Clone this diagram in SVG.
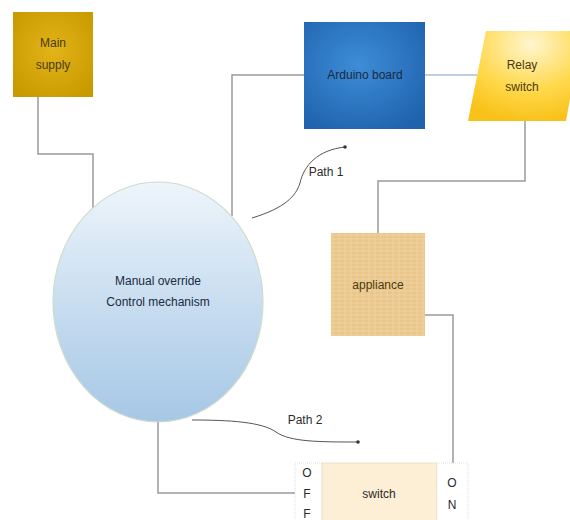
<svg xmlns="http://www.w3.org/2000/svg" width="570" height="520" viewBox="0 0 570 520">
  <defs>
    <radialGradient id="gMain" cx="50%" cy="45%" r="65%">
      <stop offset="0" stop-color="#E2B41A"/>
      <stop offset="1" stop-color="#C99A00"/>
    </radialGradient>
    <radialGradient id="gArd" cx="45%" cy="40%" r="70%">
      <stop offset="0" stop-color="#3E8DD6"/>
      <stop offset="1" stop-color="#1F62AE"/>
    </radialGradient>
    <radialGradient id="gRelay" cx="55%" cy="15%" r="85%">
      <stop offset="0" stop-color="#FFF6D0"/>
      <stop offset="0.6" stop-color="#FFD84A"/>
      <stop offset="1" stop-color="#F8C21A"/>
    </radialGradient>
    <linearGradient id="gEll" x1="0" y1="0" x2="0" y2="1">
      <stop offset="0" stop-color="#EEF5FB"/>
      <stop offset="0.55" stop-color="#C5DBEF"/>
      <stop offset="1" stop-color="#A6C7E6"/>
    </linearGradient>
    <pattern id="wood" width="6" height="4" patternUnits="userSpaceOnUse">
      <rect width="6" height="4" fill="#EDCC93"/>
      <line x1="0" y1="1" x2="6" y2="1" stroke="#E2BD7E" stroke-width="0.8"/>
      <line x1="3" y1="0" x2="3" y2="4" stroke="#F3D9A8" stroke-width="0.6"/>
    </pattern>
    <marker id="dot" markerWidth="4" markerHeight="4" refX="2" refY="2" markerUnits="userSpaceOnUse">
      <circle cx="2" cy="2" r="1.8" fill="#333"/>
    </marker>
  </defs>
  <style>
    .lbl { font-family: "Liberation Sans", Arial, sans-serif; font-size: 12px; fill: #2A2A2A; text-anchor: middle; }
    .dark { fill: #1A2A40; }
    .brown { fill: #4A3A10; }
    .wire { fill: none; stroke: #9A9A9A; stroke-width: 1.5; }
    .path { fill: none; stroke: #555; stroke-width: 1; marker-end: url(#dot); }
    .side { fill: #FFFFFF; stroke: #D8D8D8; stroke-width: 0.8; stroke-dasharray: 1 1; }
  </style>

  <rect width="570" height="520" fill="#FFFFFF"/>

  <g id="connectors">
    <polyline class="wire" points="38,97 38,154 93,154 93,212"/>
    <polyline class="wire" points="232,216 232,75 304,75"/>
    <line class="wire" x1="425" y1="75" x2="477" y2="75" stroke="#A9C0D6" style="stroke:#A9C0D6"/>
    <polyline class="wire" points="525,121 525,181 378,181 378,233"/>
    <polyline class="wire" points="425,315 453,315 453,463"/>
    <polyline class="wire" points="158,422 158,493 300,493"/>
    <path class="path" d="M252,218 C285,208 296,196 300,183 C304,165 318,150 345,147"/>
    <path class="path" d="M192,420 C230,420 262,422 276,432 C290,442 320,442 358,442"/>
  </g>

  <g id="main-supply">
    <rect x="13" y="12" width="80" height="85" fill="url(#gMain)"/>
    <text class="lbl brown" x="53" y="47">Main</text>
    <text class="lbl brown" x="53" y="69">supply</text>
  </g>

  <g id="arduino">
    <rect x="304" y="22" width="121" height="107" fill="url(#gArd)"/>
    <text class="lbl dark" x="365" y="79">Arduino board</text>
  </g>

  <g id="relay">
    <polygon points="486,31 582,31 566,121 468,121" fill="url(#gRelay)"/>
    <text class="lbl brown" x="522" y="69">Relay</text>
    <text class="lbl brown" x="522" y="91">switch</text>
  </g>

  <g id="manual-override">
    <ellipse cx="158" cy="302" rx="105" ry="120" fill="url(#gEll)" stroke="#CFDCCB" stroke-width="1.2"/>
    <text class="lbl dark" x="158" y="285">Manual override</text>
    <text class="lbl dark" x="158" y="306">Control mechanism</text>
  </g>

  <g id="appliance">
    <rect x="331" y="233" width="94" height="103" fill="url(#wood)"/>
    <text class="lbl brown" x="378" y="289">appliance</text>
  </g>

  <g id="switch">
    <rect class="side" x="295" y="463" width="27" height="60"/>
    <rect x="322" y="463" width="115" height="60" fill="#FCEFD6" stroke="#E8DCC0" stroke-width="0.8"/>
    <rect class="side" x="437" y="463" width="31" height="60"/>
    <text class="lbl" x="307" y="477">O</text>
    <text class="lbl" x="307" y="498">F</text>
    <text class="lbl" x="307" y="518">F</text>
    <text class="lbl" x="379" y="498">switch</text>
    <text class="lbl" x="452" y="487">O</text>
    <text class="lbl" x="452" y="509">N</text>
  </g>

  <g id="labels">
    <text class="lbl" x="326" y="176">Path 1</text>
    <text class="lbl" x="305" y="424">Path 2</text>
  </g>
</svg>
